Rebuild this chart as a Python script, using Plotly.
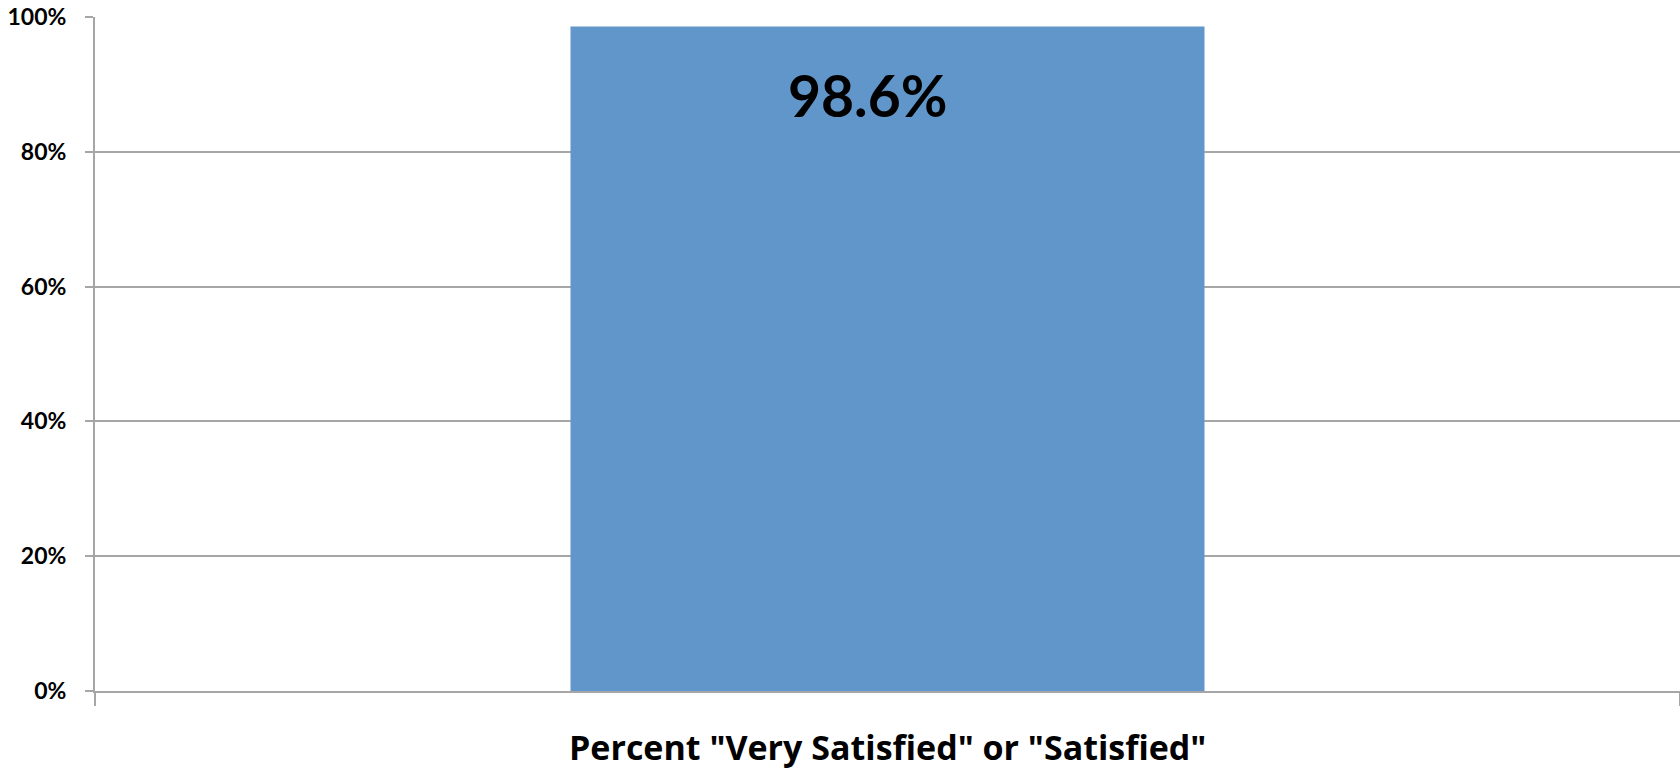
import plotly.graph_objects as go

categories = ['Percent "Very Satisfied" or "Satisfied"']
values = [0.986]
value_labels = ["98.6%"]
y_tickvals = [0, 0.2, 0.4, 0.6, 0.8, 1.0]
y_ticktext = ["0%", "20%", "40%", "60%", "80%", "100%"]

FONT = "Lato"
GRID = "#A6A6A6"
BAR = "#6196CA"

fig = go.Figure()
fig.add_trace(go.Bar(
    x=categories, y=values,
    marker=dict(color=BAR, line=dict(width=0)),
    width=0.4,
    hoverinfo="skip",
))

for c, v, t in zip(categories, values, value_labels):
    fig.add_annotation(
        x=c, y=v, text="<b>%s</b>" % t, showarrow=False,
        yanchor="top", yshift=-33, xshift=-20,
        font=dict(family=FONT, size=57, color="black"),
    )
    # category label below the axis
    fig.add_annotation(
        x=c, y=0, text="<b>%s</b>" % c, showarrow=False,
        yanchor="middle", yshift=-56,
        font=dict(family="Open Sans", size=34, color="black"),
    )

fig.update_layout(
    width=1680, height=769,
    margin=dict(l=95, r=0, t=17, b=78),
    paper_bgcolor="white", plot_bgcolor="white",
    showlegend=False,
    font=dict(family=FONT, color="black"),
)
fig.update_xaxes(
    type="category",
    range=[-0.5, 0.5],
    showgrid=False,
    showline=True, linecolor=GRID, linewidth=2,
    ticks="outside", tickson="boundaries", ticklen=13, tickcolor=GRID, tickwidth=2,
    showticklabels=False,
)
fig.update_yaxes(
    range=[0, 1.0],
    tickvals=y_tickvals, ticktext=y_ticktext,
    showgrid=True, gridcolor=GRID, gridwidth=2,
    showline=True, linecolor=GRID, linewidth=2,
    ticks="outside", ticklen=8, tickcolor=GRID, tickwidth=2,
    tickfont=dict(family=FONT, size=23, color="black", weight="bold"),
    ticklabelstandoff=14,
    zeroline=False,
)

fig.write_html("out.html")
